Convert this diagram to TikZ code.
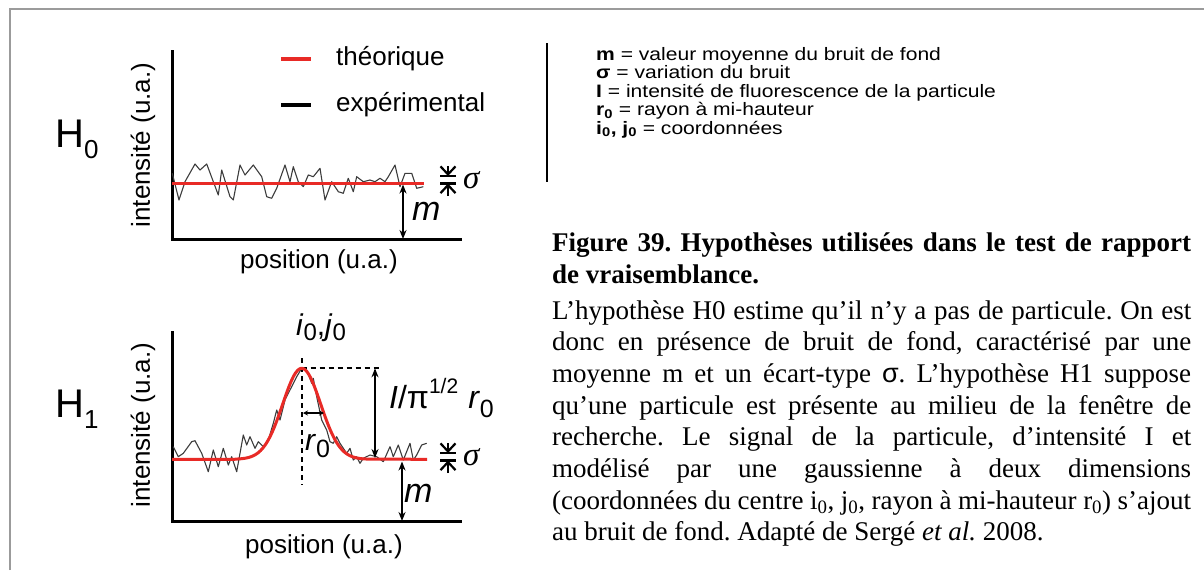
\documentclass[tikz,border=0pt]{standalone}
\usepackage{fontspec}
\setmainfont{Liberation Serif}
\newfontfamily\arial{Liberation Sans}
\newfontfamily\arialwide[FakeStretch=1.17]{Liberation Sans}
\usetikzlibrary{arrows.meta}
\definecolor{framegray}{RGB}{155,155,155}
\definecolor{curvered}{RGB}{232,42,38}
\definecolor{noisegray}{RGB}{60,60,60}
\newcommand{\myfs}[1]{\fontsize{#1}{#1}\selectfont}
\frenchspacing
\begin{document}
\begin{tikzpicture}[x=1pt,y=-1pt,
  axisline/.style={line width=3pt, line cap=rect},
  redline/.style={curvered, line width=3pt},
  noiseline/.style={noisegray, line width=1.1pt, line join=round},
  marrow/.style={{Stealth[length=9pt,width=7pt]}-{Stealth[length=9pt,width=7pt]}, line width=1.8pt},
  smallarrow/.style={{Stealth[length=5pt,width=5pt]}-{Stealth[length=5pt,width=5pt]}, line width=1.5pt},
  sigtip/.style={-{Straight Barb[length=8pt,width=15pt]}, line width=2.2pt},
  sigbar/.style={line width=2.2pt},
  dashline/.style={line width=2pt, dash pattern=on 5pt off 4pt},
  axlabel/.style={font=\arial\myfs{26}, inner sep=0pt},
  hlabel/.style={font=\arial, inner sep=0pt, anchor=base west},
  legtext/.style={font=\arialwide\myfs{18}, inner sep=0pt, anchor=base west},
  captext/.style={font=\myfs{27}, inner sep=0pt, anchor=base west}]
\useasboundingbox (0,0) rectangle (1204,570);
% frame
\draw[framegray, line width=2pt] (10,570) -- (10,9) -- (1204,9);

% ================= H0 =================
\node[hlabel] (h0) at (55,147) {\myfs{40}H\raisebox{-11pt}{\myfs{26}0}};
\coordinate (a0top) at (172,51);
\coordinate (a0org) at (172,239.5);
\coordinate (a0end) at (460,239.5);
\draw[axisline] (a0top) -- (a0org) -- (a0end);
\node[axlabel, rotate=90] (int0) at (143,145) {intensité (u.a.)};
\node[axlabel] (pos0) at (319,262) {position (u.a.)};
% legend
\coordinate (lr1) at (281,59); \coordinate (lr2) at (311,59);
\coordinate (lb1) at (281,105); \coordinate (lb2) at (311,105);
\draw[curvered, line width=4pt] (lr1) -- (lr2);
\draw[black, line width=4pt] (lb1) -- (lb2);
\node[hlabel, font=\arial\myfs{26}] (lth) at (336,65) {théorique};
\node[hlabel, font=\arial\myfs{26}] (lex) at (336,111) {expérimental};
% noise
\draw[noiseline] (172.3,173.3) -- (179,200) -- (185,181.7) -- (195,164) -- (200,170) -- (206.7,164) -- (218.3,195) -- (221.7,170) -- (230,196.7) -- (233.3,200) -- (240,165) -- (245,175) -- (253.3,165) -- (261.7,176.7) -- (266.7,196.7) -- (271.7,198.3) -- (276.7,188.3) -- (285,165) -- (290,181.7) -- (293.3,166.7) -- (298.3,181.7) -- (303.3,186.7) -- (308.3,175) -- (313.3,176.7) -- (320,168.3) -- (325,200) -- (331.7,181.7) -- (338.3,191.7) -- (343.3,193.3) -- (348.3,178.3) -- (353.3,191.7) -- (356.7,176.7) -- (363.3,181.7) -- (370,180) -- (375,181.7) -- (380,178.3) -- (385,181.7) -- (388.3,176.7) -- (395,165) -- (400,186.7) -- (405,173.3) -- (411.7,173.3) -- (416.7,188.3) -- (423.3,186.7);
\coordinate (r0a) at (172,183); \coordinate (r0b) at (424,183);
\draw[redline] (r0a) -- (r0b);
% m arrow
\coordinate (m0top) at (403,184.5); \coordinate (m0bot) at (403,239);
\draw[marrow] (m0top) -- (m0bot);
\node[hlabel, font=\arial\itshape\myfs{34}] (m0) at (412,220) {m};
% sigma marker
\draw[sigtip] (448,166) -- (448,176);
\draw[sigbar] (440,176) -- (456,176);
\draw[sigbar] (440,183.5) -- (456,183.5);
\draw[sigtip] (448,196) -- (448,183.5);
\node[hlabel, font=\itshape\myfs{33}] (s0) at (463,188) {σ};

% ================= H1 =================
\node[hlabel] (h1) at (55,417) {\myfs{40}H\raisebox{-11pt}{\myfs{26}1}};
\coordinate (a1top) at (172,332);
\coordinate (a1org) at (172,521);
\coordinate (a1end) at (460,521);
\draw[axisline] (a1top) -- (a1org) -- (a1end);
\node[axlabel, rotate=90] (int1) at (143,425) {intensité (u.a.)};
\node[axlabel] (pos1) at (324,547) {position (u.a.)};
% noise
\draw[noiseline] (173.3,446.7) -- (178.3,456.7) -- (183.3,453.3) -- (191.7,441.7) -- (195,440.7) -- (201.7,453.3) -- (208.3,471.7) -- (213.3,450) -- (218.3,466.7) -- (223.3,448.3) -- (228.3,465) -- (231.7,456.7) -- (236.7,471.7) -- (243.3,435) -- (246.7,445) -- (250,436.7) -- (255,448.3) -- (258.3,441.7) -- (263.3,446.7) -- (268.3,440) -- (273.3,423.3) -- (276.7,410) -- (280,420) -- (285,400) -- (290,390) -- (296.7,376.7) -- (301.7,368.3) -- (306.7,370) -- (311.7,383.3) -- (313.3,378.3) -- (316.7,396.7) -- (321.7,420) -- (326.7,430) -- (330,441.7) -- (333.3,443.3) -- (336.7,436.7) -- (340,443.3) -- (346.7,453.3) -- (350,448.3) -- (353.3,460) -- (356.7,456.7) -- (360,463.3) -- (363.3,458.3) -- (370,455) -- (376.7,456.7) -- (383.3,461.7) -- (390,446.7) -- (393.3,456.7) -- (398.3,445) -- (403.3,460) -- (410,443.3) -- (413.3,460) -- (416.7,455) -- (421.7,445) -- (426.7,443.3);
% dashed guides
\coordinate (peak) at (301.7,368.3);
\coordinate (dvtop) at (302,358); \coordinate (dvbot) at (302,485);
\coordinate (dhend) at (380,368.3);
\draw[dashline] (dvtop) -- (dvbot);
\draw[dashline] (peak) -- (dhend);
% gaussian
\coordinate (g1a) at (172,459.3); \coordinate (g1b) at (427,459.3);
\draw[redline, line join=round] (g1a) -- (235,459.3) -- plot[domain=235:368, samples=90] (\x, {459.3-91*exp(-((\x-301.7)^2)/722)}) -- (g1b);
% amplitude arrow
\coordinate (ampt) at (375,368.3); \coordinate (ampb) at (375,458);
\draw[marrow] (ampt) -- (ampb);
\node[hlabel, font=\arial\myfs{32}] (amp) at (389,408) {\textit{I}/π\raisebox{15pt}{\myfs{21}1/2}\hspace{10pt}\textit{r}\raisebox{-9pt}{\myfs{25}0}};
% r0 arrow
\coordinate (rwa) at (303,413); \coordinate (rwb) at (324,413);
\draw[smallarrow] (rwa) -- (rwb);
\node[hlabel, font=\arial\myfs{30}] (rlab) at (305,450) {\textit{r}\raisebox{-7pt}{\myfs{25}0}};
% i0 j0
\node[hlabel, font=\arial\myfs{30}] (ij) at (296,335) {\textit{i}\raisebox{-5pt}{\myfs{24}0},\textit{j}\raisebox{-5pt}{\myfs{24}0}};
% m arrow
\coordinate (m1top) at (402,461.5); \coordinate (m1bot) at (402,521);
\draw[marrow] (m1top) -- (m1bot);
\node[hlabel, font=\arial\itshape\myfs{34}] (m1) at (404,502) {m};
% sigma marker
\draw[sigtip] (448,443) -- (448,453);
\draw[sigbar] (440,453) -- (456,453);
\draw[sigbar] (440,460.5) -- (456,460.5);
\draw[sigtip] (448,473) -- (448,460.5);
\node[hlabel, font=\itshape\myfs{33}] (s1) at (463,465) {σ};

% ================= legend text =================
\coordinate (sept) at (547,43); \coordinate (sepb) at (547,182);
\draw[line width=1.5pt] (sept) -- (sepb);
\node[legtext] (d1) at (596,60) {\textbf{m} = valeur moyenne du bruit de fond};
\node[legtext] (d2) at (596,78.5) {\textbf{σ} = variation du bruit};
\node[legtext] (d3) at (596,97) {\textbf{I} = intensité de fluorescence de la particule};
\node[legtext] (d4) at (596,115.5) {\textbf{r\textsubscript{0}} = rayon à mi-hauteur};
\node[legtext] (d5) at (596,134) {\textbf{i\textsubscript{0}, j\textsubscript{0}} = coordonnées};

% ================= caption =================
\node[captext] (c1) at (552,251) {\makebox[639pt][s]{\textbf{Figure 39. Hypothèses utilisées dans le test de rapport}}};
\node[captext] (c2) at (552,283) {\textbf{de vraisemblance.}};
\node[captext] (c3) at (552,319) {\makebox[639pt][s]{L’hypothèse H0 estime qu’il n’y a pas de particule. On est}};
\node[captext] (c4) at (552,350.7) {\makebox[639pt][s]{donc en présence de bruit de fond, caractérisé par une}};
\node[captext] (c5) at (552,382.4) {\makebox[639pt][s]{moyenne m et un écart-type {\arial σ}. L’hypothèse H1 suppose}};
\node[captext] (c6) at (552,414.1) {\makebox[639pt][s]{qu’une particule est présente au milieu de la fenêtre de}};
\node[captext] (c7) at (552,445.8) {\makebox[639pt][s]{recherche. Le signal de la particule, d’intensité I et}};
\node[captext] (c8) at (552,477.5) {\makebox[639pt][s]{modélisé par une gaussienne à deux dimensions}};
\node[captext] (c9) at (552,509.2) {\makebox[639pt][s]{(coordonnées du centre i\textsubscript{0}, j\textsubscript{0}, rayon à mi-hauteur r\textsubscript{0}) s’ajout}};
\node[captext] (c10) at (552,540.9) {au bruit de fond. Adapté de Sergé \textit{et al.} 2008.};
\end{tikzpicture}
\end{document}
